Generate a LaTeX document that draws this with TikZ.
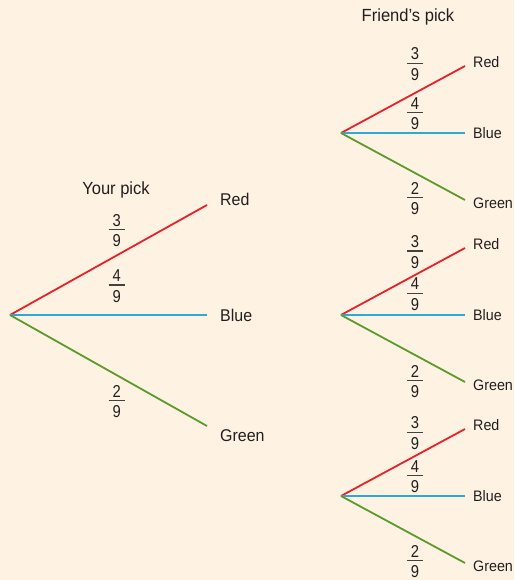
\documentclass[tikz,border=0pt]{standalone}
\usepackage{fontspec}
\setmainfont{Liberation Sans}[FakeStretch=0.94]
\newfontfamily\digfont{Liberation Sans}[FakeStretch=0.86]
\definecolor{bgc}{HTML}{FEF3E2}
\definecolor{redc}{HTML}{E8202A}
\definecolor{bluec}{HTML}{2AA8DF}
\definecolor{greenc}{HTML}{5C9A2E}
\definecolor{txt}{HTML}{231F20}
% fraction: name, x, y of bar, numerator, denominator
\newcommand\fracat[5]{%
  \coordinate (#1) at (#2,#3);
  \node[fdig] (#1n) at ([yshift=3.6pt]#1) {#4};
  \node[fdig] (#1d) at ([yshift=-17.0pt]#1) {#5};
  \draw[fbar] ([xshift=-8pt]#1) -- ([xshift=8pt]#1);
}
\begin{document}
\begin{tikzpicture}[x=1pt,y=-1pt,
  branch/.style={line width=1.8pt},
  rb/.style={branch,draw=redc},
  bb/.style={branch,draw=bluec},
  gb/.style={branch,draw=greenc},
  biglab/.style={anchor=west,inner sep=0pt,text=txt,font=\fontsize{17}{17}\selectfont},
  smalllab/.style={anchor=west,inner sep=0pt,text=txt,font=\fontsize{15.2}{15.2}\selectfont},
  fdig/.style={anchor=base,inner sep=0pt,text=txt,font=\digfont\fontsize{17.2}{17.2}\selectfont},
  fbar/.style={draw=txt!85,line width=1.1pt},
  title/.style={inner sep=0pt,text=txt,font=\fontsize{17.6}{17.6}\selectfont}]
\fill[bgc] (0,0) rectangle (514,580);
\useasboundingbox (0,0) rectangle (514,580);
% left tree
\coordinate (L) at (10,315);
\coordinate (LR) at (207,205);
\coordinate (LB) at (207,315);
\coordinate (LG) at (207,426);
\draw[rb] (L) -- (LR);
\draw[bb] (L) -- (LB);
\draw[gb] (L) -- (LG);
\node[biglab] (LRt) at (220,199) {Red};
\node[biglab] (LBt) at (220,315) {Blue};
\node[biglab] (LGt) at (220,436) {Green};
\node[title] (yp) at (116,190) {Your pick};
\fracat{Lf1}{116.7}{229.8}{3}{9}
\fracat{Lf2}{116.7}{285}{4}{9}
\fracat{Lf3}{116.7}{400.7}{2}{9}
\node[title] (fp) at (408,17) {Friend’s pick};
% right trees
\foreach \i/\yy/\ya/\yb/\yc in {1/133/63.3/112.7/197.7, 2/315/251/293.3/380.7, 3/496/432.3/475.7/560.8}{
  \coordinate (R\i) at (341,\yy);
  \coordinate (R\i r) at (465,\yy-67);
  \coordinate (R\i u) at (465,\yy);
  \coordinate (R\i g) at (465,\yy+67);
  \draw[rb] (R\i) -- (R\i r);
  \draw[bb] (R\i) -- (R\i u);
  \draw[gb] (R\i) -- (R\i g);
  \node[smalllab] (R\i rt) at (473,\yy-71) {Red};
  \node[smalllab] (R\i bt) at (473,\yy) {Blue};
  \node[smalllab] (R\i gt) at (473,\yy+70) {Green};
  \fracat{R\i f1}{415}{\ya}{3}{9}
  \fracat{R\i f2}{415}{\yb}{4}{9}
  \fracat{R\i f3}{415}{\yc}{2}{9}
}
\end{tikzpicture}
\end{document}
